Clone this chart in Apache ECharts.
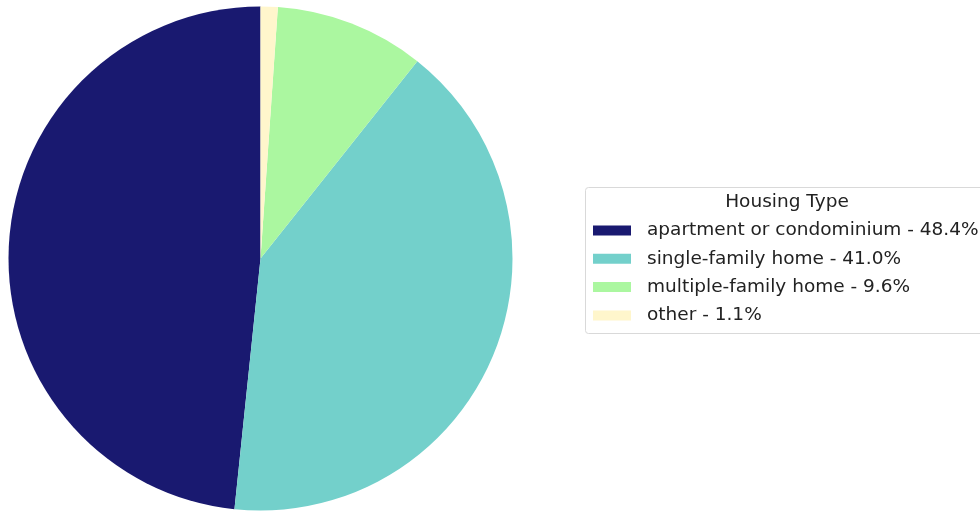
<!DOCTYPE html>
<html>
<head>
<meta charset="utf-8">
<script src="https://cdn.jsdelivr.net/npm/echarts@6/dist/echarts.min.js"></script>
<style>
  html, body { margin: 0; padding: 0; background: #ffffff; }
  #chart { width: 980px; height: 512px; }
</style>
</head>
<body>
<div id="chart"></div>
<script>
// Housing type shares (percent)
const categories = ['apartment or condominium', 'single-family home', 'multiple-family home', 'other'];
const shares = [48.4, 41.0, 9.6, 1.1];
const colors = ['#191970', '#73d0cb', '#abf7a0', '#fff6cc'];
const legendTitle = 'Housing Type';

const data = categories.map((name, i) => ({ name: name, value: shares[i], itemStyle: { color: colors[i] } }));
const labelFor = {};
categories.forEach((c, i) => { labelFor[c] = c + ' - ' + shares[i].toFixed(1) + '%'; });

const chart = echarts.init(document.getElementById('chart'), null, { renderer: 'canvas' });
chart.setOption({
  animation: false,
  backgroundColor: '#ffffff',
  legend: {
    orient: 'vertical',
    left: 593,
    top: 220.5,
    padding: 0,
    itemWidth: 38,
    itemHeight: 10,
    itemGap: 8.3,
    icon: 'rect',
    selectedMode: false,
    data: categories,
    formatter: name => labelFor[name],
    textStyle: { fontFamily: 'DejaVu Sans', fontSize: 18.5, lineHeight: 20, color: '#222222', padding: [0, 0, 0, 11] }
  },
  graphic: [
    {
      type: 'rect',
      z: -1,
      shape: { x: 585.5, y: 187.5, width: 410, height: 146, r: 3 },
      style: { fill: '#ffffff', stroke: '#d9d9d9', lineWidth: 1 }
    },
    {
      type: 'text',
      x: 787, y: 202,
      style: { text: legendTitle, fontFamily: 'DejaVu Sans', fontSize: 18.5, fill: '#222222', align: 'center', verticalAlign: 'middle' }
    }
  ],
  series: [{
    type: 'pie',
    center: [260.5, 258.5],
    radius: 252,
    startAngle: 90,
    clockwise: false,
    data: data,
    label: { show: false },
    labelLine: { show: false },
    itemStyle: { borderWidth: 0 },
    emphasis: { disabled: true }
  }]
});
</script>
</body>
</html>
